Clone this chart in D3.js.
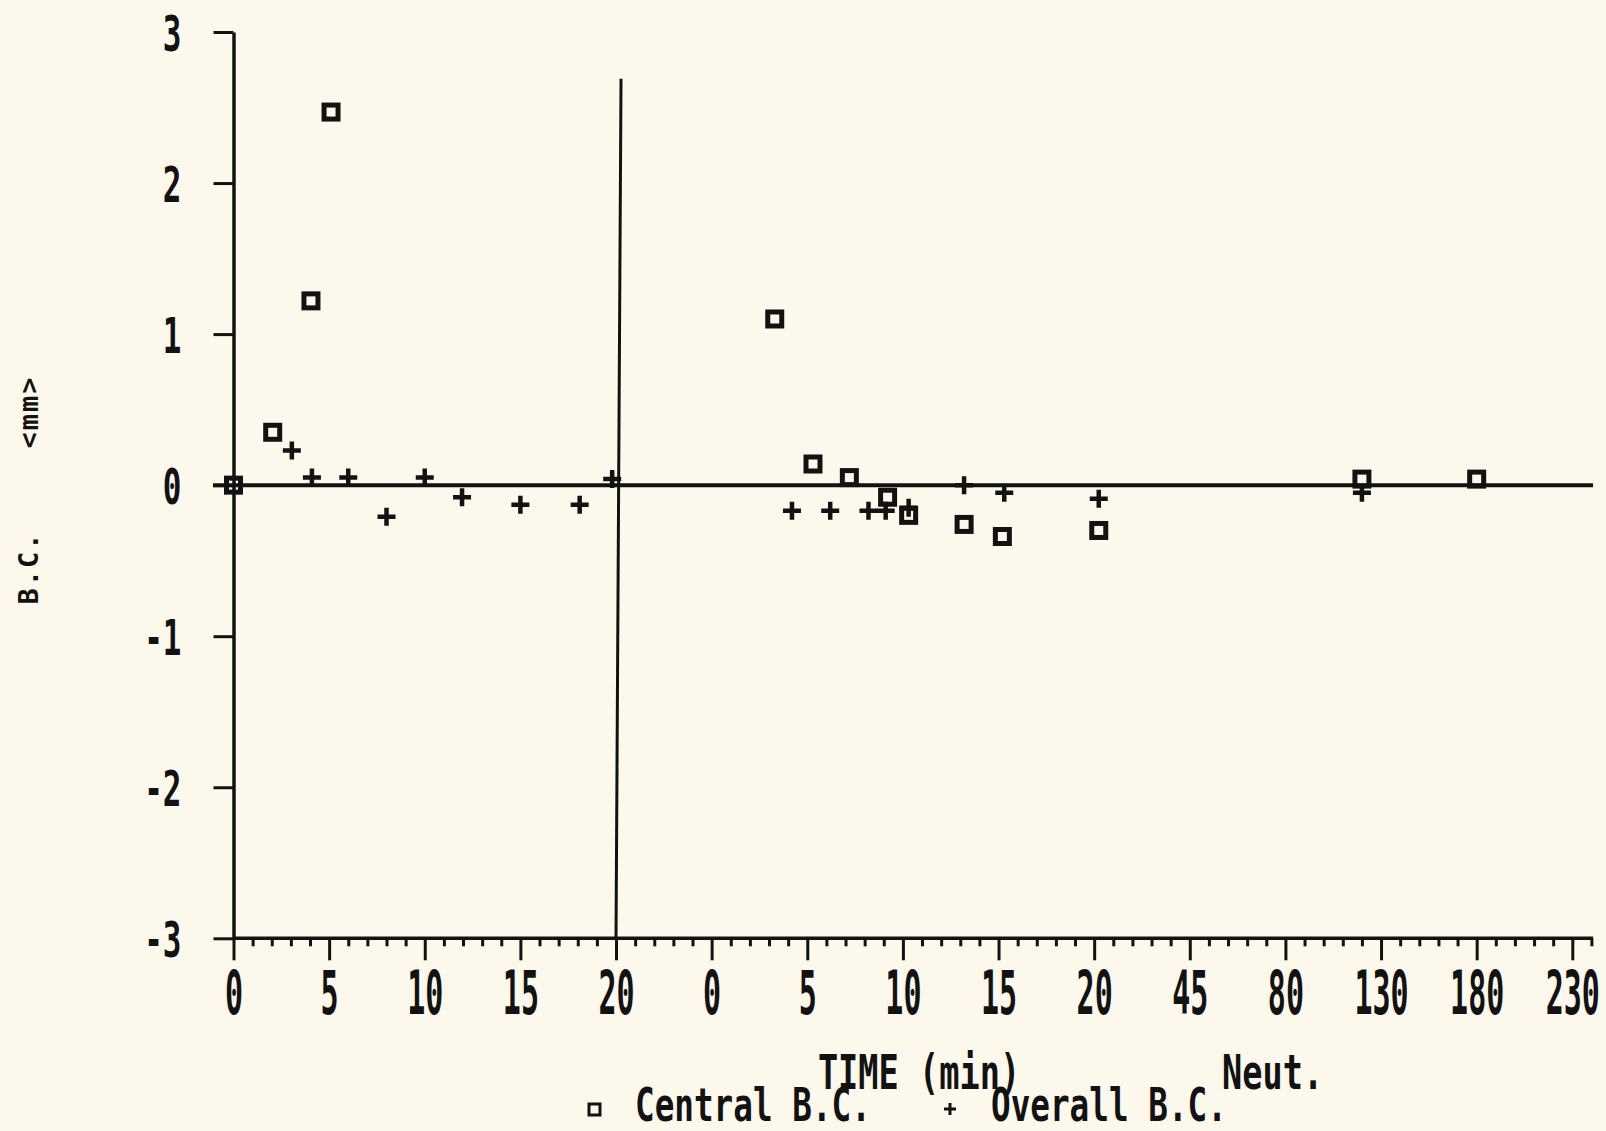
<!DOCTYPE html>
<html><head><meta charset="utf-8">
<script src="https://cdn.jsdelivr.net/npm/d3@7"></script>
<style>html,body{margin:0;padding:0;background:#fcf9ec;} svg{display:block}</style>
</head><body><svg id="chart" width="1606" height="1131"></svg>
<script>
// ---- data ----
const yTicks = [-3, -2, -1, 0, 1, 2, 3];
const phase1Ticks = [0, 5, 10, 15, 20];
const phase2Ticks = [0, 5, 10, 15, 20, 45, 80, 130, 180, 230];
const phase1CentralTime = [0, 2.05, 4.05, 5.1];
const phase1CentralBC   = [0, 0.35, 1.22, 2.47];
const phase1OverallTime = [3.05, 4.1, 6.0, 8.0, 10.0, 11.95, 15.0, 18.1, 19.8];
const phase1OverallBC   = [0.23, 0.05, 0.05, -0.21, 0.05, -0.08, -0.13, -0.13, 0.04];
const phase2CentralTime = [3.3, 5.3, 7.2, 9.2, 10.3, 13.2, 15.2, 21.2, 120, 180];
const phase2CentralBC   = [1.10, 0.14, 0.05, -0.08, -0.20, -0.26, -0.34, -0.30, 0.04, 0.04];
const phase2OverallTime = [4.2, 6.2, 8.2, 9.1, 10.3, 13.2, 15.3, 21.2, 120];
const phase2OverallBC   = [-0.17, -0.17, -0.17, -0.17, -0.15, 0.0, -0.05, -0.09, -0.05];
const dividerTime = 20, dividerTop = 2.69;
const yTitleParts = ["B.C.", "<mm>"];
const xTitle = "TIME (min)", xTitle2 = "Neut.";
const legendLabels = ["Central B.C.", "Overall B.C."];

// ---- drawing ----
const ink = "#121212";
const FONT = "'DejaVu Sans Mono', 'Liberation Mono', monospace";
const svg = d3.select("#chart");
svg.append("rect").attr("width", 1606).attr("height", 1131).attr("fill", "#fcf9ec");

const slot = d3.scaleLinear().domain([0, 14]).range([233.5, 1572.3]);
const x1 = d3.scaleLinear().domain([0, 20]).range([slot(0), slot(4)]);
const x2 = d3.scaleLinear().domain([0, 20, 45, 80, 130, 180, 230])
  .range([slot(5), slot(9), slot(10), slot(11), slot(12), slot(13), slot(14)]);
const y = d3.scaleLinear().domain([-3, 3]).range([938.3, 32]);

// zero line
svg.append("line").attr("x1", 213).attr("x2", 1593).attr("y1", y(0)).attr("y2", y(0))
  .attr("stroke", ink).attr("stroke-width", 4);

// x axis line
svg.append("line").attr("x1", slot(0)).attr("x2", 1593).attr("y1", y(-3)).attr("y2", y(-3))
  .attr("stroke", ink).attr("stroke-width", 3.5);

// minor ticks
const minorVals = d3.range(1, 72).map(i => i / 5).filter(v => Math.abs(v - Math.round(v)) > 1e-6);
const gMinor = svg.append("g").attr("transform", `translate(0,${y(-3)})`)
  .call(d3.axisBottom(slot).tickValues(minorVals).tickSize(8).tickSizeOuter(0).tickFormat(""));
gMinor.select(".domain").remove();
gMinor.selectAll("line").attr("stroke", ink).attr("stroke-width", 3);

function styleX(g) {
  g.select(".domain").remove();
  g.selectAll("line").attr("stroke", ink).attr("stroke-width", 3);
  g.selectAll("text").attr("y", 76).attr("dy", null)
    .attr("transform", "scale(0.5,1)")
    .attr("font-family", FONT).attr("font-size", 60).attr("font-weight", "bold")
    .attr("fill", ink);
}
svg.append("g").attr("transform", `translate(0,${y(-3)})`)
  .call(d3.axisBottom(x1).tickValues(phase1Ticks).tickSize(22).tickSizeOuter(0).tickFormat(d => String(d)))
  .call(styleX);
svg.append("g").attr("transform", `translate(0,${y(-3)})`)
  .call(d3.axisBottom(x2).tickValues(phase2Ticks).tickSize(22).tickSizeOuter(0).tickFormat(d => String(d)))
  .call(styleX);

// y axis
const gy = svg.append("g").attr("transform", `translate(${slot(0)},0)`)
  .call(d3.axisLeft(y).tickValues(yTicks).tickSize(20).tickSizeOuter(0).tickFormat(d => String(d)));
gy.select(".domain").attr("stroke", ink).attr("stroke-width", 3.5);
gy.selectAll("line").attr("stroke", ink).attr("stroke-width", 3);
gy.selectAll("text").attr("x", 0).attr("dy", "0.36em")
  .attr("transform", "translate(-52,0) scale(0.62,1)")
  .attr("font-family", FONT).attr("font-size", 50).attr("font-weight", "bold").attr("fill", ink);

// divider line
svg.append("line").attr("x1", x1(dividerTime) + 5).attr("x2", x1(dividerTime))
  .attr("y1", y(dividerTop)).attr("y2", y(-3)).attr("stroke", ink).attr("stroke-width", 3);

// markers
function squares(xs, ys, sc) {
  svg.append("g").selectAll("rect").data(xs.map((t, i) => [t, ys[i]])).join("rect")
    .attr("x", d => sc(d[0]) - 7).attr("y", d => y(d[1]) - 7)
    .attr("width", 14).attr("height", 14)
    .attr("fill", "none").attr("stroke", ink).attr("stroke-width", 5);
}
function pluses(xs, ys, sc) {
  svg.append("g").selectAll("path").data(xs.map((t, i) => [t, ys[i]])).join("path")
    .attr("d", d => { const cx = sc(d[0]), cy = y(d[1]);
      return `M${cx - 9},${cy}H${cx + 9}M${cx},${cy - 9}V${cy + 9}`; })
    .attr("stroke", ink).attr("stroke-width", 4.5).attr("fill", "none");
}
squares(phase1CentralTime, phase1CentralBC, x1);
pluses(phase1OverallTime, phase1OverallBC, x1);
squares(phase2CentralTime, phase2CentralBC, x2);
pluses(phase2OverallTime, phase2OverallBC, x2);

// titles
function label(txt, x, yy, anchor, size, sx) {
  svg.append("text").attr("transform", `translate(${x},${yy}) scale(${sx},1)`)
    .attr("text-anchor", anchor).attr("font-family", FONT).attr("font-size", size)
    .attr("font-weight", "bold").attr("fill", ink).text(txt);
}
label(xTitle, 919, 1089, "middle", 48, 0.7);
label(xTitle2, 1222, 1089, "start", 48, 0.7);
// legend
svg.append("rect").attr("x", 589).attr("y", 1104).attr("width", 11).attr("height", 11)
  .attr("fill", "none").attr("stroke", ink).attr("stroke-width", 3);
label(legendLabels[0], 635, 1121, "start", 46, 0.71);
svg.append("path").attr("d", "M944,1109H956M950,1103V1115").attr("stroke", ink).attr("stroke-width", 3);
label(legendLabels[1], 991, 1121, "start", 46, 0.71);

// y title (rotated)
[[yTitleParts[0], 568], [yTitleParts[1], 412]].forEach(([t, cy]) => {
  svg.append("text").attr("transform", `translate(38,${cy}) rotate(-90)`)
    .attr("text-anchor", "middle").attr("font-family", FONT).attr("font-size", 27)
    .attr("letter-spacing", 2).attr("font-weight", "bold").attr("fill", ink).text(t);
});
</script></body></html>
